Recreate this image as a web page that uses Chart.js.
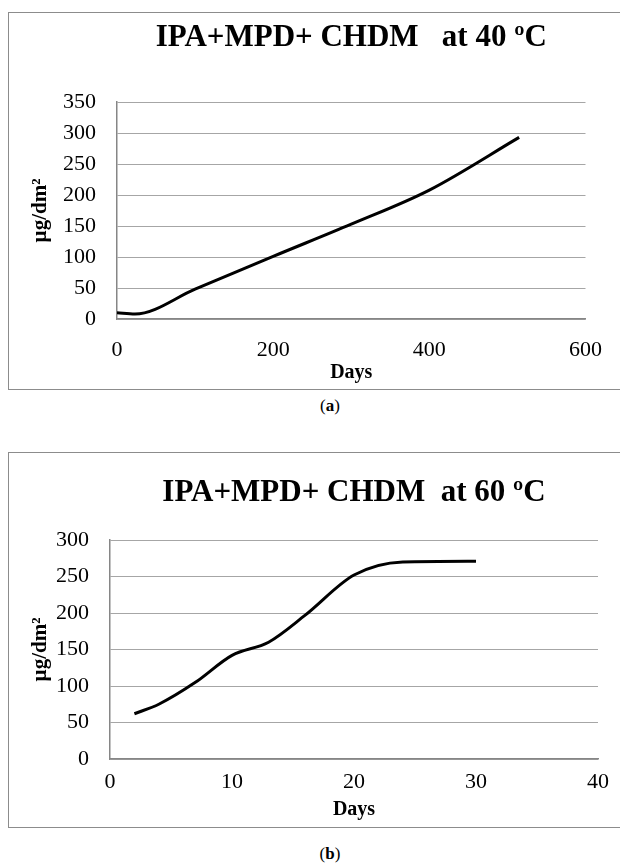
<!DOCTYPE html>
<html>
<head>
<meta charset="utf-8">
<script src="https://cdn.jsdelivr.net/npm/chart.js@4.4.1/dist/chart.umd.min.js"></script>
<style>
  body { margin: 0; width: 620px; height: 865px; background: #fff; overflow: hidden; position: relative; font-family: 'Liberation Serif', serif; }
  .frame { position: absolute; border: 1px solid #8c8c8c; width: 700px; }
  canvas { position: absolute; }
  .cap { position: absolute; width: 100px; text-align: center; font-size: 17px; color: #000; }
</style>
</head>
<body>
<div class="frame" style="left:8px; top:12px; height:376px;"></div>
<canvas id="chartA" width="611" height="376" style="left:9px; top:13px; width:611px; height:376px;"></canvas>
<div class="cap" style="left:280px; top:396px;">(<b>a</b>)</div>

<div class="frame" style="left:8px; top:452px; height:374px;"></div>
<canvas id="chartB" width="611" height="374" style="left:9px; top:453px; width:611px; height:374px;"></canvas>
<div class="cap" style="left:280px; top:844px;">(<b>b</b>)</div>

<script>
// (a) 40 ºC
const daysA = [0, 23, 100, 200, 300, 400, 515];
const valuesA = [10, 8, 48, 101, 153, 208, 293];
const xTicksA = [0, 200, 400, 600];
const yTicksA = [0, 50, 100, 150, 200, 250, 300, 350];

// (b) 60 ºC
const daysB = [2, 4, 7, 10, 13, 16, 20, 24, 30];
const valuesB = [62, 75, 105, 142, 160, 197, 252, 270, 271];
const xTicksB = [0, 10, 20, 30, 40];
const yTicksB = [0, 50, 100, 150, 200, 250, 300];

const serif = 'Liberation Serif';
const gridGray = '#a6a6a6';
const axisGray = '#868686';

function makeChart(id, title, days, values, xTicks, yTicks, box) {
  const ctx = document.getElementById(id).getContext('2d');
  const pts = days.map((d, i) => ({x: d, y: values[i]}));
  return new Chart(ctx, {
    type: 'line',
    data: {
      datasets: [{
        data: pts,
        borderColor: '#000',
        borderWidth: 3,
        pointRadius: 0,
        fill: false,
        cubicInterpolationMode: 'monotone'
      }]
    },
    options: {
      responsive: false,
      animation: false,
      devicePixelRatio: 1,
      layout: { padding: { left: 0, top: 0, bottom: 0, right: box.padRight } },
      plugins: {
        legend: { display: false },
        tooltip: { enabled: false },
        title: {
          display: true,
          text: title,
          fullSize: false,
          color: '#000',
          font: { family: serif, size: 31, weight: 'bold', lineHeight: 1.2 },
          padding: { top: box.titleTop, bottom: box.titleBottom }
        }
      },
      scales: {
        x: {
          type: 'linear',
          min: xTicks[0],
          max: xTicks[xTicks.length - 1],
          afterBuildTicks: s => { s.ticks = xTicks.map(v => ({value: v})); },
          afterFit: s => { s.height = box.xHeight; },
          grid: { display: false, drawTicks: false },
          border: { display: true, color: axisGray, width: 1.5 },
          ticks: { color: '#000', padding: box.xTickPad, font: { family: serif, size: 22 }, maxRotation: 0 },
          title: { display: true, text: 'Days', color: '#000', padding: { top: 0, bottom: box.daysPad },
                   font: { family: serif, size: 20, weight: 'bold', lineHeight: 1.2 } }
        },
        y: {
          type: 'linear',
          min: yTicks[0],
          max: yTicks[yTicks.length - 1],
          afterBuildTicks: s => { s.ticks = yTicks.map(v => ({value: v})); },
          afterFit: s => { s.width = box.yWidth; },
          grid: { color: gridGray, lineWidth: 1, drawTicks: false },
          border: { display: true, color: axisGray, width: 1.5 },
          ticks: { color: '#000', padding: 21, font: { family: serif, size: 22 } },
          title: { display: true, text: 'µg/dm²', color: '#000', padding: { top: 18.5, bottom: 0 },
                   font: { family: serif, size: 21, weight: 'bold', lineHeight: 1.2 } }
        }
      }
    }
  });
}

makeChart('chartA', 'IPA+MPD+ CHDM   at 40 ºC', daysA, valuesA, xTicksA, yTicksA,
  { padRight: 28, titleTop: 6.4, titleBottom: 45.4, xHeight: 70, yWidth: 108, xTickPad: 18, daysPad: 4 });

makeChart('chartB', 'IPA+MPD+ CHDM  at 60 ºC', daysB, valuesB, xTicksB, yTicksB,
  { padRight: 22, titleTop: 21.4, titleBottom: 28.4, xHeight: 68, yWidth: 101, xTickPad: 10.5, daysPad: 5 });
</script>
</body>
</html>
